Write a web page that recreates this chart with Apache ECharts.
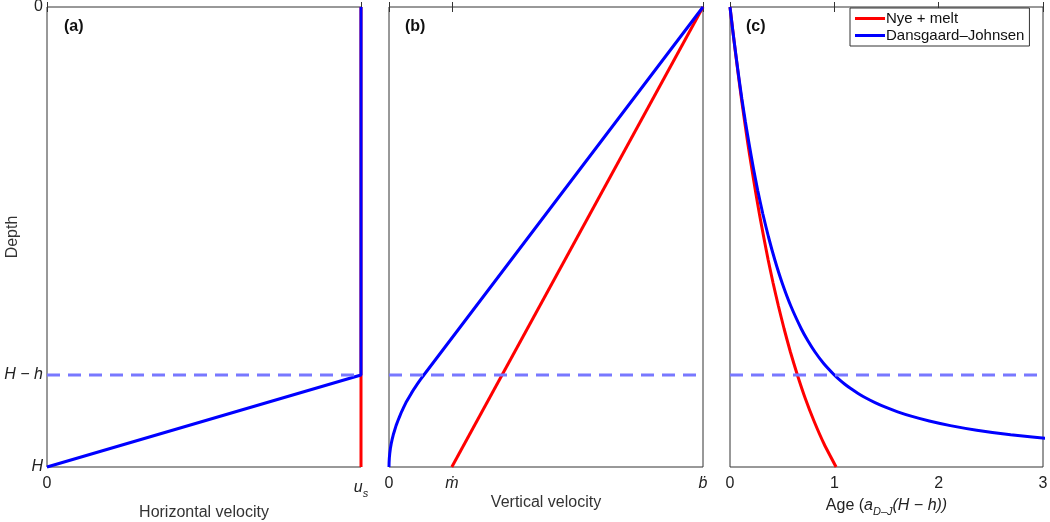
<!DOCTYPE html>
<html>
<head>
<meta charset="utf-8">
<script src="https://cdn.jsdelivr.net/npm/echarts@6/dist/echarts.min.js"></script>
<style>html,body{margin:0;padding:0;background:#fff}#c{width:1050px;height:522px}</style>
</head>
<body>
<div id="c"></div>
<script>
// ---- data (depth normalised: 0 = surface, 1 = bed H) ----
const depthTickValues = [0, 0.8, 1];
const depthTickLabels = ['0', 'H − h', 'H'];
const hDepth = 0.8; // depth of H − h

// (a) horizontal velocity (u_s = 1)
const aNyeDepth = [0, 1];
const aNyeU = [1, 1];
const aDJDepth = [0, 0.8, 1];
const aDJU = [1, 1, 0];
const aTickValues = [0, 1];

// (b) vertical velocity (b-dot = 1, m-dot = 0.2)
const bTickValues = [0, 0.2, 1];
const bNyeDepth = [0, 1];
const bNyeW = [1, 0.2];
const bDJDepth = [0, 0.8, 0.81, 0.82, 0.83, 0.84, 0.85, 0.86, 0.87, 0.88, 0.89, 0.9, 0.91, 0.92, 0.93, 0.94, 0.95, 0.96, 0.97, 0.98, 0.99, 1.0];
const bDJW = [1, 0.111, 0.100, 0.090, 0.080, 0.071, 0.0625, 0.054, 0.047, 0.040, 0.034, 0.028, 0.0225, 0.018, 0.0136, 0.010, 0.0069, 0.0044, 0.0025, 0.0011, 0.0003, 0];

// (c) age, in units of a_DJ(H − h)
const cTickValues = [0, 1, 2, 3];
const cNyeDepth = [0, 0.05, 0.1, 0.15, 0.2, 0.25, 0.3, 0.35, 0.4, 0.45, 0.5, 0.55, 0.6, 0.65, 0.7, 0.75, 0.8, 0.85, 0.9, 0.95, 1.0];
const cNyeAge = [0, 0.026, 0.053, 0.081, 0.110, 0.141, 0.173, 0.208, 0.244, 0.282, 0.323, 0.366, 0.413, 0.464, 0.519, 0.579, 0.646, 0.720, 0.805, 0.902, 1.017];
const cDJDepth = [0, 0.05, 0.1, 0.15, 0.2, 0.25, 0.3, 0.35, 0.4, 0.45, 0.5, 0.55, 0.6, 0.65, 0.7, 0.725, 0.75, 0.775, 0.8, 0.81, 0.82, 0.83, 0.84, 0.85, 0.86, 0.87, 0.88, 0.89, 0.9, 0.91, 0.92, 0.93, 0.94];
const cDJAge = [0, 0.026, 0.054, 0.083, 0.114, 0.148, 0.185, 0.224, 0.267, 0.315, 0.369, 0.430, 0.500, 0.583, 0.684, 0.745, 0.815, 0.898, 1.0, 1.048, 1.101, 1.161, 1.228, 1.303, 1.390, 1.490, 1.607, 1.745, 1.910, 2.112, 2.365, 2.690, 3.123];

const NYE = 'Nye + melt';
const DJ = 'Dansgaard–Johnsen';
const RED = '#ff0000', BLUE = '#0000ff', DASH = '#7878ff';
const FONT = 'Liberation Sans, Arial, DejaVu Sans, sans-serif';

const pairs = (xs, ys) => xs.map((x, i) => [x, ys[i]]);

const chart = echarts.init(document.getElementById('c'), null, {renderer: 'canvas'});

const grids = [
  {left: 47, top: 7, width: 314, height: 460},
  {left: 389, top: 7, width: 314, height: 460},
  {left: 730, top: 7, width: 313, height: 460}
].map(g => Object.assign(g, {show: true, borderColor: '#333', borderWidth: 1, backgroundColor: '#fff', containLabel: false, outerBoundsMode: 'none'}));

const rich = {
  n: {fontFamily: FONT, fontSize: 16, color: '#222'},
  i: {fontFamily: FONT, fontSize: 16, fontStyle: 'italic', color: '#222'},
  sub: {fontFamily: FONT, fontSize: 11, fontStyle: 'italic', color: '#222', padding: [12, 0, 0, 0]}
};

function bottomAxis(gi, max, ticks, fmt, name, gap) {
  return {
    type: 'value', gridIndex: gi, position: 'bottom', min: 0, max: max,
    axisLine: {show: false}, splitLine: {show: false},
    axisTick: {show: true, inside: true, length: 5, lineStyle: {color: '#333'}, customValues: ticks},
    axisLabel: {customValues: ticks, formatter: fmt, margin: 9, fontFamily: FONT, fontSize: 16, color: '#222', rich: rich},
    name: name, nameLocation: 'middle', nameGap: gap, nameMoveOverlap: false,
    nameTextStyle: {fontFamily: FONT, fontSize: 16, color: '#333', rich: rich}
  };
}
function topAxis(gi, max, ticks) {
  return {
    type: 'value', gridIndex: gi, position: 'top', min: 0, max: max,
    axisLine: {show: false}, splitLine: {show: false}, axisLabel: {show: false},
    axisTick: {show: true, inside: true, length: 5, lineStyle: {color: '#333'}, customValues: ticks}
  };
}

const xAxes = [
  bottomAxis(0, 1, aTickValues, v => v === 1 ? '{i|u}{sub|s}' : '0', 'Horizontal velocity', 38),
  bottomAxis(1, 1, bTickValues, v => v === 0 ? '0' : (v === 1 ? '{i|ḃ}' : '{i|ṁ}'), 'Vertical velocity', 28),
  bottomAxis(2, 3, cTickValues, v => String(v), '{n|Age (}{i|a}{sub|D–J}{i|(H − h))}', 27),
  topAxis(0, 1, aTickValues),
  topAxis(1, 1, bTickValues),
  topAxis(2, 3, cTickValues)
];

const yAxes = [0, 1, 2].map(gi => ({
  type: 'value', gridIndex: gi, inverse: true, min: 0, max: 1,
  axisLine: {show: false}, splitLine: {show: false}, axisTick: {show: false},
  axisLabel: gi === 0 ? {
    customValues: depthTickValues,
    formatter: v => { const k = depthTickValues.indexOf(v); return k === 0 ? '0' : '{i|' + depthTickLabels[k] + '}'; },
    margin: 4, fontFamily: FONT, fontSize: 16, color: '#222', rich: rich
  } : {show: false},
  name: gi === 0 ? 'Depth' : '', nameLocation: 'middle', nameGap: 26, nameRotate: 90, nameMoveOverlap: false,
  nameTextStyle: {fontFamily: FONT, fontSize: 16, color: '#333'}
}));

function line(name, gi, data, color, z, clip) {
  return {
    type: 'line', name: name, xAxisIndex: gi, yAxisIndex: gi, data: data,
    symbol: 'none', clip: clip, z: z, silent: true, animation: false,
    lineStyle: {color: color, width: 3}, itemStyle: {color: color}
  };
}
function dashed(gi, xmax) {
  return {
    type: 'line', name: 'H − h', xAxisIndex: gi, yAxisIndex: gi,
    data: [[0, hDepth], [xmax, hDepth]], symbol: 'none', clip: false, z: 5, silent: true, animation: false,
    lineStyle: {color: DASH, width: 3, type: [13, 8]}
  };
}

const series = [
  line(NYE, 0, pairs(aNyeU, aNyeDepth), RED, 2, false),
  line(DJ, 0, pairs(aDJU, aDJDepth), BLUE, 3, false),
  line(NYE, 1, pairs(bNyeW, bNyeDepth), RED, 2, false),
  line(DJ, 1, pairs(bDJW, bDJDepth), BLUE, 3, false),
  Object.assign(line(NYE, 2, pairs(cNyeAge, cNyeDepth), RED, 2, false), {smooth: 0.2}),
  Object.assign(line(DJ, 2, pairs(cDJAge, cDJDepth), BLUE, 3, true), {smooth: 0.2}),
  dashed(0, 1), dashed(1, 1), dashed(2, 3)
];

chart.setOption({
  animation: false,
  backgroundColor: '#fff',
  grid: grids,
  xAxis: xAxes,
  yAxis: yAxes,
  series: series,
  legend: {
    data: [NYE, DJ], selectedMode: false, orient: 'vertical',
    left: 850, top: 8, padding: [3, 5, 3, 5], itemGap: 2,
    icon: 'rect', itemWidth: 30, itemHeight: 3,
    borderColor: '#333', borderWidth: 1, backgroundColor: '#fff',
    textStyle: {fontFamily: FONT, fontSize: 15, color: '#111', padding: [0, 0, 0, -4]}
  },
  graphic: [
    {type: 'text', left: 64, top: 19, style: {text: '(a)', font: 'bold 16px ' + FONT, fill: '#111'}},
    {type: 'text', left: 405, top: 19, style: {text: '(b)', font: 'bold 16px ' + FONT, fill: '#111'}},
    {type: 'text', left: 746, top: 19, style: {text: '(c)', font: 'bold 16px ' + FONT, fill: '#111'}}
  ]
});
</script>
</body>
</html>
